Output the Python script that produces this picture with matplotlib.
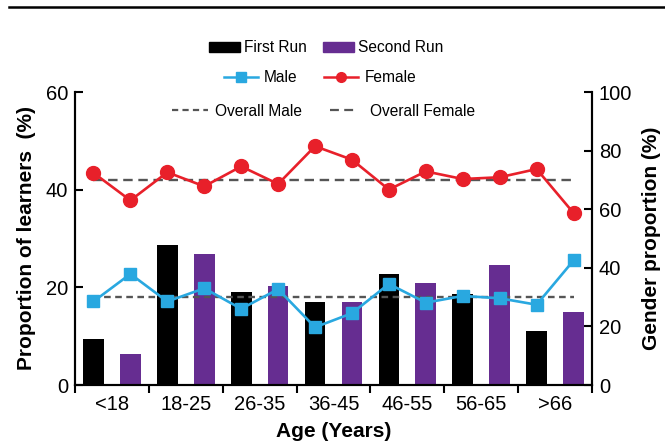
import matplotlib.pyplot as plt
import numpy as np
from matplotlib.lines import Line2D
from matplotlib.patches import Patch

# values
age_groups = ['<18', '18-25', '26-35', '36-45', '46-55', '56-65', '>66']
first_run = [9.4, 28.6, 19.1, 16.9, 22.7, 18.6, 11.0]
second_run = [6.3, 26.8, 20.2, 17.0, 20.9, 24.5, 15.0]
# one gender value per bar (first run, second run, for each age group)
male = [28.5, 37.9, 28.5, 33.0, 26.0, 32.7, 19.7, 24.5, 34.5, 28.1, 30.4, 29.6, 27.4, 42.5]
female = [72.4, 63.0, 72.6, 67.8, 74.6, 68.6, 81.5, 76.9, 66.7, 72.9, 70.3, 70.9, 73.7, 58.7]
overall_male = 30.2
overall_female = 70.1

BLACK = '#000000'
PURPLE = '#662d91'
BLUE = '#29a8e0'
RED = '#e8202a'
GREY = '#555555'


def add_legend_entry(fig, handle, label, x, y, hlen, pad):
	leg = fig.legend([handle], [label], loc='center left', bbox_to_anchor=(x, y),
		frameon=False, borderpad=0, borderaxespad=0, handlelength=hlen,
		handletextpad=pad, fontsize=11.2)
	return leg


def main():
	plt.rcParams['font.family'] = ['Liberation Sans', 'DejaVu Sans']
	fig = plt.figure(figsize=(6.65, 4.44), dpi=100)
	ax = fig.add_axes([75/665, 1-385/444, 517/665, 293/444])
	ax2 = ax.twinx()

	x = np.arange(len(age_groups))
	ax.bar(x-0.25, first_run, width=0.28, color=BLACK)
	ax.bar(x+0.25, second_run, width=0.28, color=PURPLE)

	xp = np.ravel(np.column_stack([x-0.25, x+0.25]))
	ax2.hlines(overall_female, xp[0], xp[-1], color=GREY, lw=1.7, linestyles=(0, (4.0, 2.4)))
	ax2.hlines(overall_male, xp[0], xp[-1], color=GREY, lw=1.7, linestyles=(0, (2.8, 1.9)))
	ax2.plot(xp, female, '-o', color=RED, lw=1.9, ms=10)
	ax2.plot(xp, male, '-s', color=BLUE, lw=1.9, ms=9)

	ax.set_xlim(-0.5, len(age_groups)-0.5)
	ax.set_ylim(0, 60)
	ax2.set_ylim(0, 100)
	ax.set_yticks([0, 20, 40, 60])
	ax2.set_yticks([0, 20, 40, 60, 80, 100])

	ax.set_xticks(x)
	ax.set_xticklabels(age_groups)
	ax.set_xticks(np.arange(-0.5, len(age_groups)), minor=True)
	ax.tick_params(axis='x', which='major', length=0, pad=7, labelsize=14.5)
	ax.tick_params(axis='x', which='minor', length=6, width=1.5, direction='out')
	ax.tick_params(axis='y', length=6, width=1.5, direction='in', labelsize=14.5, pad=5)
	ax2.tick_params(axis='y', length=6, width=1.5, direction='in', labelsize=14.5, pad=5)

	for a in (ax, ax2):
		a.spines['top'].set_visible(False)
		for s in ('left', 'right', 'bottom'):
			a.spines[s].set_linewidth(1.5)

	ax.set_xlabel('Age (Years)', fontsize=15, fontweight='bold', labelpad=6)
	ax.set_ylabel('Proportion of learners  (%)', fontsize=15, fontweight='bold', labelpad=7)
	ax2.set_ylabel('Gender proportion (%)', fontsize=15, fontweight='bold', labelpad=7)

	# legend rows at the top
	add_legend_entry(fig, Patch(color=BLACK), 'First Run', 209/665, 1-48/444, 2.0, 0.28)
	add_legend_entry(fig, Patch(color=PURPLE), 'Second Run', 323/665, 1-48/444, 2.0, 0.28)
	add_legend_entry(fig, Line2D([], [], color=BLUE, marker='s', lw=1.8, ms=6.5), 'Male', 224/665, 1-78/444, 2.2, 0.37)
	add_legend_entry(fig, Line2D([], [], color=RED, marker='o', lw=1.8, ms=7), 'Female', 324/665, 1-78/444, 2.2, 0.45)
	add_legend_entry(fig, Line2D([], [], color=GREY, lw=1.6, ls=(0, (2.8, 1.9))), 'Overall Male', 172/665, 1-111/444, 2.3, 0.45)
	add_legend_entry(fig, Line2D([], [], color=GREY, lw=1.6, ls=(0, (4.0, 2.4))), 'Overall Female', 330/665, 1-111/444, 1.7, 0.85)

	# rule across the top of the page
	fig.add_artist(Line2D([9/665, 1], [1-7/444, 1-7/444], color='black', lw=1.8, transform=fig.transFigure))

	fig.savefig('out.png', dpi=100)


if __name__ == "__main__":
	main()
